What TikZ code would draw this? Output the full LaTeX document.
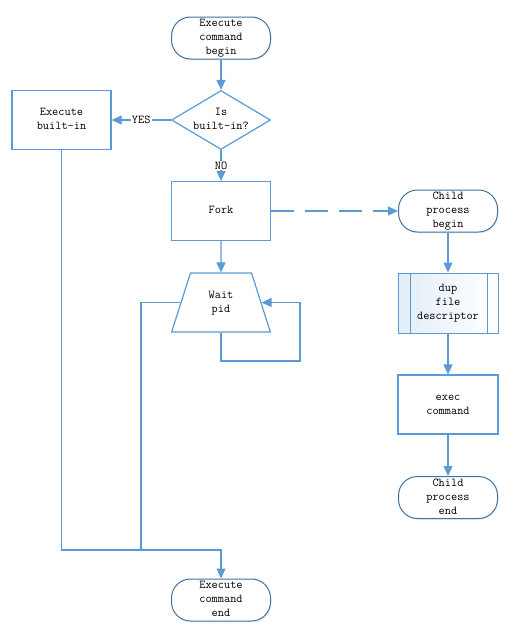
\documentclass[tikz,border=0pt]{standalone}
\usepackage{fontspec}
\usetikzlibrary{shapes.geometric,arrows.meta,shadows}

\definecolor{flowblue}{HTML}{5B9BD5}
\definecolor{termblue}{HTML}{41719C}

\tikzset{
	every node/.style={font=\ttfamily\fontsize{12}{14}\selectfont},
	terminator/.style={draw=termblue,line width=1pt,fill=white,rounded corners=19pt,minimum width=99pt,minimum height=39pt,inner sep=0pt,drop shadow={shadow xshift=1pt,shadow yshift=-1.5pt,opacity=0.12}},
	process/.style={draw=flowblue,line width=1.2pt,fill=white,minimum width=99pt,minimum height=59pt,inner sep=0pt},
	decision/.style={shape=diamond,draw=flowblue,line width=1.2pt,fill=white,minimum width=99pt,minimum height=59pt,inner sep=0pt},
	waitbox/.style={shape=trapezium,draw=flowblue,line width=1.2pt,fill=white,trapezium left angle=68,trapezium right angle=68,trapezium stretches=true,minimum width=99pt,minimum height=59pt,inner sep=0pt},
	flow/.style={draw=flowblue,line width=1.2pt,-{Triangle[length=10pt,width=9pt]}},
	line/.style={draw=flowblue,line width=1.2pt}
}

\begin{document}
\begin{tikzpicture}[x=1pt,y=-1pt]
		\useasboundingbox (0,0) rectangle (525,640);
		
		\node[terminator] (start) at (221,38){\begin{tabular}{c}Execute\\command\\begin\end{tabular}};
		
		\node[decision,label=center:{\begin{tabular}{c}Is\\built-in?\end{tabular}}] (isbuiltin) at (221,120){};
		
		\node[process] (builtin) at (61.5,120){\begin{tabular}{c}Execute\\built-in\end{tabular}};
		
		\node[process] (fork) at (221,211){\begin{tabular}{c}Fork\end{tabular}};
		
		\node[waitbox] (wait) at (221,302.5){\begin{tabular}{c}Wait\\pid\end{tabular}};
		
		\node[terminator] (end) at (221,600){\begin{tabular}{c}Execute\\command\\end\end{tabular}};
		
		\node[terminator] (childbegin) at (448,211){\begin{tabular}{c}Child\\process\\begin\end{tabular}};
		
		\node[process,line width=1pt,minimum width=100pt,minimum height=60pt,left color=flowblue!18!white,right color=white] (dup) at (448,303){\begin{tabular}{c}dup\\file\\descriptor\end{tabular}};
		\draw[line,line width=1pt] ([xshift=13pt]dup.north west) -- ([xshift=13pt]dup.south west);
		\draw[line,line width=1pt] ([xshift=-11pt]dup.north east) -- ([xshift=-11pt]dup.south east);
		
		\node[process,minimum width=100pt] (exec) at (448,404.5){\begin{tabular}{c}exec\\command\end{tabular}};
		
		\node[terminator] (childend) at (448,497.5){\begin{tabular}{c}Child\\process\\end\end{tabular}};
		
		\coordinate (loop) at (300,361);
		\coordinate (waitjoin) at (141,550);
		
		\draw[flow] (start) -- (isbuiltin);
		\draw[flow] (isbuiltin) -- node[fill=white,inner sep=1pt]{YES} (builtin);
		\draw[flow] (isbuiltin) -- node[fill=white,inner sep=1pt]{NO} (fork);
		\draw[flow,dash pattern=on 23pt off 11pt] (fork) -- (childbegin);
		\draw[flow] (fork) -- (wait);
		\draw[flow] (wait.south) |- (loop) |- (wait.east);
		\draw[line] (wait.west) -| (waitjoin);
		\draw[flow] (builtin) |- (waitjoin) -| (end);
		
		\draw[flow] (childbegin) -- (dup);
		\draw[flow] (dup) -- (exec);
		\draw[flow] (exec) -- (childend);
	\end{tikzpicture}
\end{document}
